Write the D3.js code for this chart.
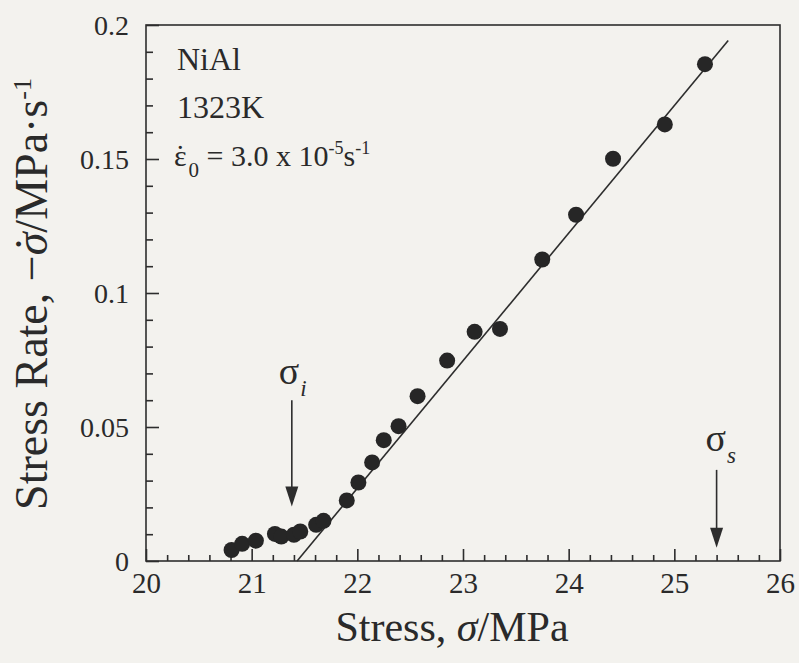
<!DOCTYPE html>
<html>
<head>
<meta charset="utf-8">
<script src="https://cdn.jsdelivr.net/npm/d3@7/dist/d3.min.js"></script>
<style>
  html, body { margin: 0; padding: 0; background: #f3f2ee; }
  svg { display: block; }
  text { font-family: "Liberation Serif", "Times New Roman", "DejaVu Serif", serif; fill: #2a2a2a; }
</style>
</head>
<body>
<svg id="chart" width="799" height="663"></svg>
<script>
// Stress (MPa) and stress-relaxation rate (MPa/s) measurements
const stress = [20.81, 20.91, 21.04, 21.22, 21.28, 21.40, 21.46, 21.61, 21.68,
                21.90, 22.01, 22.14, 22.25, 22.39, 22.57, 22.85, 23.11, 23.35,
                23.75, 24.07, 24.42, 24.91, 25.29];
const rate = [0.0041, 0.0064, 0.0076, 0.0101, 0.0091, 0.0098, 0.0110, 0.0135, 0.0150,
              0.0226, 0.0293, 0.0368, 0.0451, 0.0503, 0.0615, 0.0748, 0.0855, 0.0866,
              0.1125, 0.1292, 0.1501, 0.1629, 0.1854];

// Linear fit through the upper points: rate = slope * (stress - stressAtZero)
const fitStressRange = [21.43, 25.51];
const fitSlope = 0.0476;

// Marked stresses (internal stress and saturation stress)
const sigmaI = 21.38;
const sigmaS = 25.40;

const xTicks = [20, 21, 22, 23, 24, 25, 26];
const yTicks = [0, 0.05, 0.1, 0.15, 0.2];
const yTickLabels = ["0", "0.05", "0.1", "0.15", "0.2"];

const svg = d3.select("#chart");
const x = d3.scaleLinear().domain([20, 26]).range([146, 780]);
const y = d3.scaleLinear().domain([0, 0.2]).range([561, 25]);

const ink = "#2d2d2d";
const serif = '"Liberation Serif", "Times New Roman", serif';

// frame
svg.append("rect")
  .attr("x", x(20)).attr("y", y(0.2))
  .attr("width", x(26) - x(20)).attr("height", y(0) - y(0.2))
  .attr("fill", "none").attr("stroke", ink).attr("stroke-width", 1.6);

// minor ticks
const xMinor = d3.range(20, 26.001, 0.2).filter(v => Math.abs(v - Math.round(v)) > 1e-6);
const yMinor = d3.range(0, 0.2001, 0.01).filter(v => Math.abs(v / 0.05 - Math.round(v / 0.05)) > 1e-6);

function styleAxis(g) {
  g.attr("font-family", serif);
  g.select(".domain").remove();
  g.selectAll(".tick line").attr("stroke", ink).attr("stroke-width", 1.6);
}

svg.append("g").attr("transform", `translate(0,${y(0)})`)
  .call(d3.axisBottom(x).tickValues(xMinor).tickSize(-6).tickFormat(""))
  .call(styleAxis);
svg.append("g").attr("transform", `translate(${x(20)},0)`)
  .call(d3.axisLeft(y).tickValues(yMinor).tickSize(-7).tickFormat(""))
  .call(styleAxis);

// major ticks with labels
const gx = svg.append("g").attr("transform", `translate(0,${y(0)})`)
  .call(d3.axisBottom(x).tickValues(xTicks).tickSize(-12).tickPadding(0).tickFormat(d3.format("d")))
  .call(styleAxis);
gx.selectAll(".tick text")
  .attr("y", 32).attr("dy", 0)
  .style("font-size", "29px").attr("fill", ink);

const gy = svg.append("g").attr("transform", `translate(${x(20)},0)`)
  .call(d3.axisLeft(y).tickValues(yTicks).tickSize(-13).tickPadding(0)
    .tickFormat((d, i) => yTickLabels[i]))
  .call(styleAxis);
gy.selectAll(".tick text")
  .attr("x", -17).attr("dy", "0.35em")
  .style("font-size", "28px").attr("fill", ink);

// fitted line
svg.append("line")
  .attr("x1", x(fitStressRange[0])).attr("y1", y(0))
  .attr("x2", x(fitStressRange[1]))
  .attr("y2", y(fitSlope * (fitStressRange[1] - fitStressRange[0])))
  .attr("stroke", ink).attr("stroke-width", 1.6);

// data points
svg.append("g").selectAll("circle")
  .data(stress.map((s, i) => [s, rate[i]]))
  .join("circle")
  .attr("cx", d => x(d[0])).attr("cy", d => y(d[1]))
  .attr("r", 8).attr("fill", "#262626");

// arrows marking sigma_i and sigma_s
function arrow(xv, yTop, yTip) {
  const px = x(xv), t = y(yTop), b = y(yTip);
  svg.append("line").attr("x1", px).attr("x2", px).attr("y1", t).attr("y2", b - 14)
    .attr("stroke", ink).attr("stroke-width", 1.6);
  svg.append("path")
    .attr("d", `M${px - 6.5},${b - 20} L${px + 6.5},${b - 20} L${px},${b} Z`)
    .attr("fill", ink);
}
arrow(sigmaI, 0.060, 0.0203);
arrow(sigmaS, 0.034, 0.0049);

function sigmaLabel(px, py, sub) {
  const t = svg.append("text").attr("x", px).attr("y", py).style("font-size", "38px");
  t.append("tspan").text("σ");
  t.append("tspan").attr("dx", 1).attr("dy", 12).style("font-size", "23px")
    .style("font-style", "italic").text(sub);
}
sigmaLabel(x(sigmaI) - 13, 384, "i");
sigmaLabel(x(sigmaS) - 11, 451, "s");

// places an overdot above one character of a text element
function overdot(textSel, charIndex, size) {
  const node = textSel.node();
  const ext = node.getExtentOfChar(charIndex);
  const pos = node.getStartPositionOfChar(charIndex);
  d3.select(node.parentNode).append("text")
    .attr("transform", textSel.attr("transform"))
    .attr("x", ext.x + ext.width / 2).attr("y", pos.y)
    .attr("text-anchor", "middle")
    .style("font-size", size).text("˙");
}

// condition notes
const notes = svg.append("g").style("font-size", "32px");
notes.append("text").attr("x", 177).attr("y", 70).text("NiAl");
notes.append("text").attr("x", 177).attr("y", 118).text("1323K");
const eps = notes.append("text").attr("x", 174).attr("y", 166).style("font-size", "30px");
eps.append("tspan").text("ε");
eps.append("tspan").attr("dx", 2).attr("dy", 11).style("font-size", "21px").text("0");
eps.append("tspan").attr("dy", -11).text(" = 3.0 x 10");
eps.append("tspan").attr("dy", -12).style("font-size", "18px").text("-5");
eps.append("tspan").attr("dy", 12).text("s");
eps.append("tspan").attr("dy", -12).style("font-size", "18px").text("-1");
overdot(eps, 0, "30px");

// axis titles
const xt = svg.append("text")
  .attr("x", 452).attr("y", 641).attr("text-anchor", "middle")
  .style("font-size", "42px");
xt.append("tspan").text("Stress, ");
xt.append("tspan").style("font-style", "italic").text("σ");
xt.append("tspan").text("/MPa");

const yt = svg.append("text")
  .attr("transform", "translate(47,294) rotate(-90)")
  .attr("text-anchor", "middle")
  .style("font-size", "46px");
yt.append("tspan").text("Stress Rate, −");
yt.append("tspan").style("font-style", "italic").text("σ");
yt.append("tspan").text("/MPa·s");
yt.append("tspan").attr("dy", -16).style("font-size", "26px").text("-1");
overdot(yt, 14, "46px");
</script>
</body>
</html>
